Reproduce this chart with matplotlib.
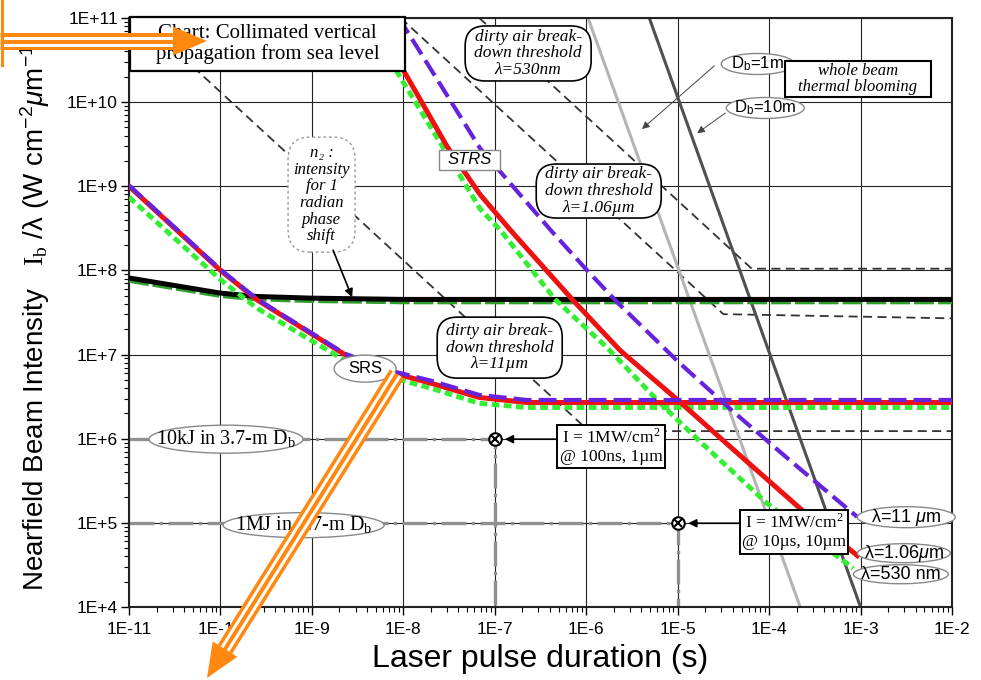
import numpy as np
import matplotlib.pyplot as plt
from matplotlib.patches import Ellipse, FancyBboxPatch, Polygon
from matplotlib.lines import Line2D
from matplotlib.transforms import IdentityTransform
from matplotlib.ticker import FixedLocator, FuncFormatter, LogLocator, NullFormatter

plt.rcParams['font.family'] = ['Liberation Sans', 'DejaVu Sans']
plt.rcParams['mathtext.fontset'] = 'custom'
plt.rcParams['mathtext.rm'] = 'Liberation Sans'
plt.rcParams['mathtext.it'] = 'Liberation Sans:italic'
plt.rcParams['mathtext.sf'] = 'Liberation Serif'
SERIF = ['Liberation Serif', 'DejaVu Serif']

# all values are log10: pulse duration (s) and I_b/lambda (W cm^-2 um^-1)
# SRS branch (1.06 um, 11 um, 530 nm)
srs_logt = [-11.0, -10.0, -9.6, -8.64, -8.11, -7.70, -7.17, -6.65, -2.0]
srs_red = [9.00, 8.00, 7.65, 7.00, 6.78, 6.66, 6.49, 6.43, 6.43]
srs_purple = [9.01, 8.01, 7.66, 7.01, 6.80, 6.69, 6.52, 6.46, 6.46]
srs_green = [8.87, 7.89, 7.55, 6.93, 6.72, 6.60, 6.42, 6.37, 6.37]

# STRS branch
strs_red_t = [-8.34, -8.0, -7.52, -7.16, -6.83, -6.14, -5.63, -5.0, -4.39, -3.66, -3.035]
strs_red = [11.0, 10.38, 9.47, 8.90, 8.48, 7.64, 7.05, 6.46, 5.87, 5.17, 4.61]
strs_purple_t = [-8.05, -7.98, -7.16, -6.39, -5.99, -5.66, -5.0, -4.39, -3.77, -3.035]
strs_purple = [11.0, 10.88, 9.45, 8.48, 8.0, 7.62, 6.92, 6.32, 5.74, 5.07]
strs_green_t = [-8.42, -8.07, -7.52, -7.16, -6.94, -6.34, -5.77, -5.19, -4.75, -4.02, -3.08]
strs_green = [11.0, 10.36, 9.38, 8.73, 8.48, 7.655, 7.08, 6.42, 5.96, 5.23, 4.46]

# n2: intensity for 1 radian phase shift
n2_t = [-11.0, -10.0, -9.6, -9.0, -8.0, -2.0]
n2_black = [7.91, 7.73, 7.69, 7.67, 7.655, 7.655]
n2_green = [7.87, 7.69, 7.65, 7.63, 7.615, 7.615]

# dirty air breakdown thresholds
bd530_t = [-7.17, -4.19, -2.0]
bd530 = [11.0, 8.02, 8.02]
bd106_t = [-8.03, -4.50, -2.0]
bd106 = [11.0, 7.48, 7.43]
bd11_t = [-10.88, -5.97, -2.0]
bd11 = [11.0, 6.09, 6.09]

# whole beam thermal blooming
tb1_t = [-5.98, -3.66]
tb1 = [11.0, 4.0]
tb10_t = [-5.31, -3.0]
tb10 = [11.0, 4.0]

# energy reference lines
kj_t = [-11.0, -7.0, -7.0]
kj = [6.0, 6.0, 4.0]
mj_t = [-11.0, -5.0, -5.0]
mj = [5.0, 5.0, 4.0]
pts_t = [-7.0, -5.0]
pts_I = [6.0, 5.0]


def P(lt, li):
    return 10.0 ** np.asarray(lt), 10.0 ** np.asarray(li)


fig = plt.figure(figsize=(9.81, 6.8), dpi=100)
ax = fig.add_axes([0.1315, 0.1074, 0.8389, 0.8662])
ax.set_xscale('log')
ax.set_yscale('log')
ax.set_xlim(1e-11, 1e-2)
ax.set_ylim(1e4, 1e11)

red, purple, green = '#ee1111', '#6622dd', '#33ee33'
ax.plot(*P(bd530_t, bd530), color='#333333', lw=1.3, ls=(0, (5, 3)), zorder=2)
ax.plot(*P(bd106_t, bd106), color='#333333', lw=1.3, ls=(0, (5, 3)), zorder=2)
ax.plot(*P(bd11_t, bd11), color='#333333', lw=1.3, ls=(0, (5, 3)), zorder=2)
ax.plot(*P(tb1_t, tb1), color='#b4b4b4', lw=2.2, zorder=2)
ax.plot(*P(tb10_t, tb10), color='#505050', lw=2.2, zorder=2)
ax.plot(*P(kj_t, kj), color='#909090', lw=2.4, ls=(0, (7.5, 1.6, 1, 1.6)), zorder=2)
ax.plot(*P(mj_t, mj), color='#909090', lw=2.4, ls=(0, (7.5, 1.6, 1, 1.6)), zorder=2)
ax.plot(*P(n2_t, n2_green), color='#2e9e2e', lw=2.2, ls=(0, (6.5, 1.3)), zorder=3)
ax.plot(*P(n2_t, n2_black), color='black', lw=3.6, zorder=3)

for lt, li in [(srs_logt, srs_green), (strs_green_t, strs_green)]:
    ax.plot(*P(lt, li), color=green, lw=3.5, ls=(0, (1.6, 0.9)), zorder=3)
for lt, li in [(srs_logt, srs_red), (strs_red_t, strs_red)]:
    ax.plot(*P(lt, li), color=red, lw=3.6, zorder=4)
for lt, li in [(srs_logt, srs_purple), (strs_purple_t, strs_purple)]:
    ax.plot(*P(lt, li), color=purple, lw=3.0, ls=(0, (4.3, 1.7)), zorder=4)

ax.plot(*P(pts_t, pts_I), ls='none', marker='o', ms=9, mfc='white', mec='black', mew=1.5, zorder=5)
ax.plot(*P(pts_t, pts_I), ls='none', marker='x', ms=6, mec='black', mew=1.5, zorder=6)

# axes styling
ax.xaxis.set_major_locator(FixedLocator(10.0 ** np.arange(-11, -1)))
ax.yaxis.set_major_locator(FixedLocator(10.0 ** np.arange(4, 12)))
for a in (ax.xaxis, ax.yaxis):
    a.set_minor_locator(LogLocator(base=10, subs=np.arange(2, 10), numticks=100))
    a.set_minor_formatter(NullFormatter())
    a.set_major_formatter(FuncFormatter(lambda v, p: f'1E{int(round(np.log10(v))):+d}'))
ax.tick_params(which='major', length=6, width=1, labelsize=12.5)
ax.tick_params(which='minor', length=3.5, width=0.8)
ax.tick_params(axis='x', pad=5)
ax.tick_params(axis='y', pad=2)
ax.grid(True, which='major', color='#222222', lw=0.8)
ax.set_axisbelow(True)
for s in ax.spines.values():
    s.set_linewidth(1.5)
    s.set_color('#222222')

ax.set_xlabel('Laser pulse duration (s)', fontsize=23, labelpad=5)
ax.set_ylabel(r'Nearfield Beam Intensity   $\mathsf{I_b}$ /λ (W cm$^{-2}$$\mathit{\mu}$m$^{-1}$)',
              fontsize=20, labelpad=11)


def box(lt, li, w, h, style='square', ec='black', lw=1.2, ls='-'):
    cx, cy = ax.transData.transform((10.0 ** lt, 10.0 ** li))
    if style == 'ellipse':
        p = Ellipse((cx, cy), w, h, transform=IdentityTransform(), fc='white', ec=ec, lw=lw, ls=ls, zorder=6)
    else:
        p = FancyBboxPatch((cx - w / 2, cy - h / 2), w, h, boxstyle=style,
                           transform=IdentityTransform(), fc='white', ec=ec, lw=lw, ls=ls, zorder=6)
    ax.add_artist(p)
    p.set_clip_on(False)


def label(lt, li, s, **kw):
    ax.text(10.0 ** lt, 10.0 ** li, s, ha='center', va='center', zorder=7, **kw)


def arrow(lt0, li0, lt1, li1, lw=1.2):
    ax.annotate('', xy=P(lt1, li1), xytext=P(lt0, li0), zorder=7,
                arrowprops=dict(arrowstyle='-|>', color='black', lw=lw, mutation_scale=12, shrinkA=0, shrinkB=0))


box(-9.485, 10.69, 275, 54, lw=1.6)
label(-9.485, 10.69, 'Chart: Collimated vertical\npropagation from sea level', family=SERIF, fontsize=15, linespacing=1.05)

box(-8.894, 8.90, 67, 115, 'round,pad=0,rounding_size=22', ec='#999999', lw=1, ls=(0, (2, 2)))
label(-8.894, 8.90, 'n₂ :\nintensity\nfor 1\nradian\nphase\nshift', family=SERIF, style='italic',
      fontsize=12, linespacing=1.05)
arrow(-8.768, 8.24, -8.56, 7.68)

for lt, li, w, h, lam in [(-6.635, 10.578, 126, 55, 'λ=530nm'), (-5.863, 8.943, 125, 54, 'λ=1.06µm'),
                          (-6.946, 7.082, 125, 61, 'λ=11µm')]:
    box(lt, li, w, h, 'round,pad=0,rounding_size=20')
    label(lt, li, 'dirty air break-\ndown threshold\n' + lam, family=SERIF, style='italic',
          fontsize=12.5, linespacing=1.05)

box(-7.275, 9.312, 61, 20, ec='#888888', lw=1)
label(-7.275, 9.312, 'STRS', style='italic', fontsize=12)
box(-8.418, 6.832, 62, 27, 'ellipse', ec='#888888', lw=1)
label(-8.418, 6.832, 'SRS', fontsize=12)

box(-4.124, 10.453, 73, 21, 'ellipse', ec='#888888', lw=1)
label(-4.124, 10.46, r'D$_\mathrm{b}$=1m', fontsize=12)
box(-4.042, 9.930, 78, 21, 'ellipse', ec='#888888', lw=1)
label(-4.042, 9.937, r'D$_\mathrm{b}$=10m', fontsize=12)
ax.annotate('', xy=P(-5.39, 9.68), xytext=P(-4.60, 10.43), zorder=7,
            arrowprops=dict(arrowstyle='-|>', color='#444444', lw=0.7, mutation_scale=11, shrinkA=0, shrinkB=0))
ax.annotate('', xy=P(-4.786, 9.63), xytext=P(-4.479, 9.87), zorder=7,
            arrowprops=dict(arrowstyle='-|>', color='#444444', lw=0.7, mutation_scale=11, shrinkA=0, shrinkB=0))
box(-3.030, 10.275, 145, 36, lw=1.5)
label(-3.030, 10.275, 'whole beam\nthermal blooming', family=SERIF, style='italic', fontsize=12, linespacing=1.0)

for lt, li, w, h, s in [(-2.499, 5.067, 98, 21, r'λ=11 $\mathit{\mu}$m'),
                        (-2.526, 4.639, 93, 19, r'λ=1.06$\mathit{\mu}$m'),
                        (-2.559, 4.389, 95, 19, 'λ=530 nm')]:
    box(lt, li, w, h, 'ellipse', ec='#888888', lw=1)
    label(lt, li, s, fontsize=13)

box(-9.939, 5.994, 154, 28, 'ellipse', ec='#888888', lw=1)
label(-9.939, 5.994, r'10kJ in 3.7-m D$_\mathsf{b}$', family=SERIF, fontsize=14.5)
box(-9.091, 4.972, 161, 25, 'ellipse', ec='#888888', lw=1)
label(-9.091, 4.972, r'1MJ in 3.7-m D$_\mathsf{b}$', family=SERIF, fontsize=14.5)

box(-5.727, 5.905, 108, 43, lw=1.4)
label(-5.727, 5.905, 'I = 1MW/cm$^\\mathsf{2}$\n@ 100ns, 1µm', family=SERIF, fontsize=12.5, linespacing=1.15)
arrow(-6.317, 5.994, -6.89, 5.994)
box(-3.730, 4.894, 107, 43, lw=1.4)
label(-3.730, 4.894, 'I = 1MW/cm$^\\mathsf{2}$\n@ 10µs, 10µm', family=SERIF, fontsize=12.5, linespacing=1.15)
arrow(-4.315, 4.995, -4.884, 4.995)


# orange overlay arrows (figure pixels, origin top-left)
def fp(x, y):
    return x / 981, 1 - y / 680


def orange_arrow(start, tip, head_len=34, head_half=14.5):
    s = np.array(start, float)
    t = np.array(tip, float)
    u = (t - s) / np.linalg.norm(t - s)
    n = np.array([-u[1], u[0]])
    b = t - head_len * u
    for off, col, w in [(0, '#ff8811', 17), (3.5, 'white', 3), (-3.5, 'white', 3)]:
        p0, p1 = s + off * n, b + off * n
        fig.add_artist(Line2D(*zip(fp(*p0), fp(*p1)), color=col, lw=w * 0.72,
                              solid_capstyle='butt', transform=fig.transFigure, zorder=20))
    head = [fp(*(b + head_half * n)), fp(*t), fp(*(b - head_half * n))]
    fig.add_artist(Polygon(head, closed=True, fc='#ff8811', ec='none', transform=fig.transFigure, zorder=21))


orange_arrow((0, 41), (207, 41))
orange_arrow((397, 374), (207, 678))
fig.add_artist(Line2D(*zip(fp(1.5, 0), fp(1.5, 65)), color='#ff8811', lw=2.2,
                      transform=fig.transFigure, zorder=20))

fig.savefig('out.png', dpi=100)
